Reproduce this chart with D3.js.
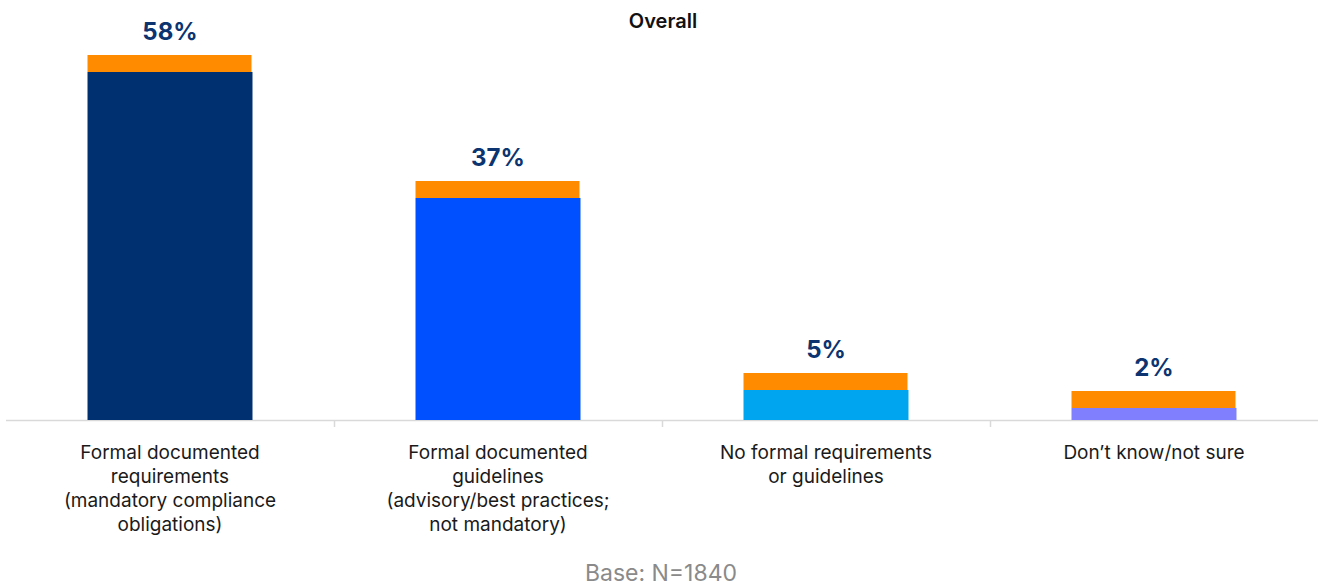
<!DOCTYPE html>
<html>
<head>
<meta charset="utf-8">
<script src="https://cdn.jsdelivr.net/npm/d3@7"></script>
<style>
  html, body { margin: 0; padding: 0; background: #fff; }
  svg { display: block; font-family: Inter, "Noto Sans", sans-serif; }
</style>
</head>
<body>
<svg id="chart" width="1318" height="586"></svg>
<script>
// Survey responses, overall share per answer
const categories = [
  ["Formal documented", "requirements", "(mandatory compliance", "obligations)"],
  ["Formal documented", "guidelines", "(advisory/best practices;", "not mandatory)"],
  ["No formal requirements", "or guidelines"],
  ["Don\u2019t know/not sure"]
];
const values = [58, 37, 5, 2];
const barColors = ["#003070", "#0050ff", "#00a5ef", "#8080ff"];
const capColor = "#ff8c00";
const title = "Overall";
const baseNote = "Base: N=1840";

const svg = d3.select("#chart");
const W = 1318, H = 586;
const margin = { left: 6, right: 0, top: 72, bottom: 166 };
const baseline = H - margin.bottom; // 420
const capH = 17;

const x = d3.scaleBand()
  .domain(d3.range(categories.length))
  .range([margin.left, W - margin.right])
  .paddingInner(0.497)
  .paddingOuter(0.2485);

const y = d3.scaleLinear()
  .domain([0, d3.max(values)])
  .range([baseline, margin.top]);

// Title
svg.append("text")
  .attr("x", 663).attr("y", 28)
  .attr("text-anchor", "middle")
  .attr("font-size", 20).attr("font-weight", 600)
  .attr("fill", "#111")
  .text(title);

// Baseline axis with ticks on band boundaries
const bandStep = (W - margin.right - margin.left) / categories.length;
svg.append("line")
  .attr("x1", margin.left).attr("x2", W)
  .attr("y1", baseline + 0.5).attr("y2", baseline + 0.5)
  .attr("stroke", "#d9d9d9").attr("stroke-width", 1.5);
svg.selectAll(".tick")
  .data(d3.range(1, categories.length))
  .join("line")
  .attr("x1", i => Math.round(margin.left + i * bandStep) + 0.5)
  .attr("x2", i => Math.round(margin.left + i * bandStep) + 0.5)
  .attr("y1", baseline).attr("y2", baseline + 7)
  .attr("stroke", "#d9d9d9").attr("stroke-width", 1.5);

const g = svg.selectAll(".bar")
  .data(values)
  .join("g");

// Coloured bar
g.append("rect")
  .attr("x", (d, i) => x(i))
  .attr("width", x.bandwidth())
  .attr("y", d => y(d))
  .attr("height", d => baseline - y(d))
  .attr("fill", (d, i) => barColors[i]);

// Orange accent cap on top of each bar
g.append("rect")
  .attr("x", (d, i) => x(i))
  .attr("width", x.bandwidth() - 1)
  .attr("y", d => y(d) - capH)
  .attr("height", capH)
  .attr("fill", capColor);

// Value labels
g.append("text")
  .attr("x", (d, i) => x(i) + x.bandwidth() / 2)
  .attr("y", d => y(d) - capH - 15)
  .attr("text-anchor", "middle")
  .attr("font-size", 24).attr("font-weight", 700)
  .attr("fill", "#0b3470")
  .text(d => d + "%");

// Category labels
const labels = svg.selectAll(".cat")
  .data(categories)
  .join("text")
  .attr("text-anchor", "middle")
  .attr("font-size", 19)
  .attr("fill", "#1a1a1a");
labels.each(function (lines, i) {
  d3.select(this).selectAll("tspan")
    .data(lines)
    .join("tspan")
    .attr("x", x(i) + x.bandwidth() / 2)
    .attr("y", (l, j) => 459 + j * 24)
    .text(l => l);
});

// Base note
svg.append("text")
  .attr("x", 661).attr("y", 581)
  .attr("text-anchor", "middle")
  .attr("font-size", 23)
  .attr("fill", "#8a8a8a")
  .text(baseNote);
</script>
</body>
</html>
